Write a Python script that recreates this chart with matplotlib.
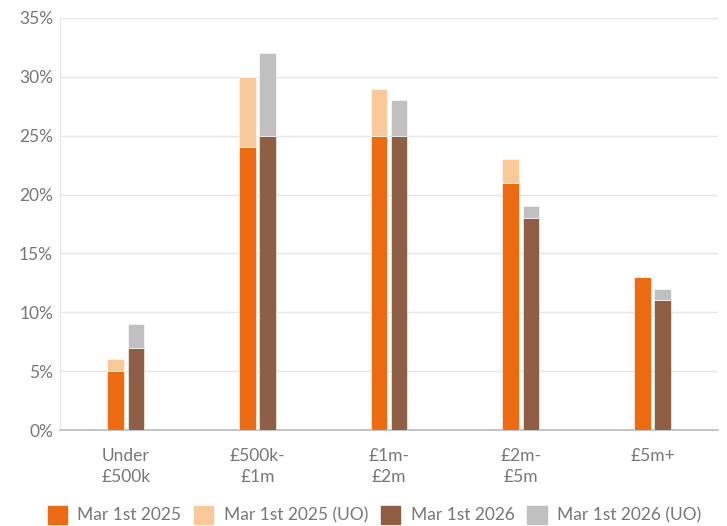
import numpy as np
import matplotlib.pyplot as plt
from matplotlib.patches import Patch

plt.rcParams['font.family'] = ['Lato', 'DejaVu Sans']

categories = ['Under\n£500k', '£500k-\n£1m', '£1m-\n£2m', '£2m-\n£5m', '£5m+']
mar25 = [5, 24, 25, 21, 13]
mar25_uo = [1, 6, 4, 2, 0]
mar26 = [7, 25, 25, 18, 11]
mar26_uo = [2, 7, 3, 1, 1]

c25 = '#EC6A12'
c25uo = '#F9C99A'
c26 = '#8E5F45'
c26uo = '#C0C0C0'
grey = '#777777'

fig = plt.figure(figsize=(7.27, 5.26), dpi=100)
ax = fig.add_axes([0.0825, 0.1825, 0.9055, 0.7835])

x = np.arange(len(categories))
w = 0.125
off = 0.077
kw = dict(width=w, edgecolor='white', linewidth=0.4, zorder=3)
ax.bar(x - off, mar25, color=c25, **kw)
ax.bar(x - off, mar25_uo, bottom=mar25, color=c25uo, **kw)
ax.bar(x + off, mar26, color=c26, **kw)
ax.bar(x + off, mar26_uo, bottom=mar26, color=c26uo, **kw)

ax.set_xlim(-0.5, len(categories) - 0.5)
ax.set_ylim(0, 35)
ax.set_yticks(range(0, 36, 5))
ax.set_yticklabels([f'{v}%' for v in range(0, 36, 5)])
ax.set_xticks(x)
ax.set_xticklabels(categories, linespacing=1.35)
ax.tick_params(axis='both', length=0, labelsize=12.5, labelcolor=grey)
ax.tick_params(axis='x', pad=13)
ax.tick_params(axis='y', pad=5)
ax.yaxis.grid(True, color='#E6E6E6', linewidth=1, zorder=0)
for s in ['top', 'right']:
    ax.spines[s].set_visible(False)
ax.spines['left'].set_color('#E6E6E6')
ax.spines['bottom'].set_color('#BBBBBB')
ax.spines['bottom'].set_linewidth(1.2)

handles = [Patch(color=c25), Patch(color=c25uo), Patch(color=c26), Patch(color=c26uo)]
labels = ['Mar 1st 2025', 'Mar 1st 2025 (UO)', 'Mar 1st 2026', 'Mar 1st 2026 (UO)']
leg = fig.legend(handles, labels, loc='lower center', bbox_to_anchor=(0.515, -0.025), ncol=4,
                 frameon=False, fontsize=12.5, handlelength=1.1, handleheight=1.2,
                 handletextpad=0.6, columnspacing=0.75)
for t in leg.get_texts():
    t.set_color(grey)

fig.savefig('out.png', dpi=100)
